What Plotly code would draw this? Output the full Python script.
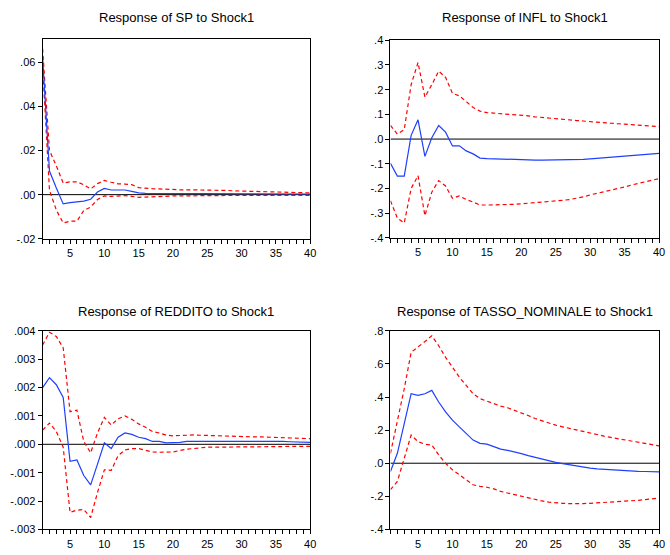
import plotly.graph_objects as go

periods = list(range(1, 41))

sp_resp = [0.062, 0.0107, 0.003, -0.0042, -0.0036, -0.0034, -0.0029, -0.0021, 0.0012, 0.0028,
           0.0021, 0.0021, 0.0021, 0.0015, 0.0008, 0.0006, 0.0006, 0.0006, 0.0006, 0.0006,
           0.0005, 0.0005, 0.0005, 0.0005, 0.0005, 0.0005, 0.0005, 0.0004, 0.0004, 0.0004,
           0.0004, 0.0004, 0.0004, 0.0004, 0.0003, 0.0003, 0.0003, 0.0003, 0.0003, 0.0003]
sp_up = [0.066, 0.020, 0.013, 0.0052, 0.0058, 0.0058, 0.0045, 0.0026, 0.0050, 0.0064,
         0.0056, 0.0049, 0.0048, 0.0045, 0.0032, 0.0028, 0.0027, 0.0026, 0.0024, 0.0023,
         0.0022, 0.0022, 0.0022, 0.0022, 0.0022, 0.0021, 0.0020, 0.0019, 0.0017, 0.0016,
         0.0015, 0.0015, 0.0014, 0.0014, 0.0013, 0.0012, 0.0011, 0.0010, 0.0009, 0.0008]
sp_lo = [0.058, 0.002, -0.007, -0.0128, -0.012, -0.012, -0.0072, -0.0056, -0.0022, -0.0006,
         -0.0008, -0.0006, -0.0004, -0.0008, -0.0012, -0.0011, -0.0009, -0.0008, -0.0007, -0.0006,
         -0.0006, -0.0005, -0.0005, -0.0004, -0.0004, -0.0004, -0.0004, -0.0003, -0.0003, -0.0003,
         -0.0003, -0.0003, -0.0003, -0.0003, -0.0003, -0.0003, -0.0003, -0.0003, -0.0003, -0.0003]

infl_resp = [-0.098, -0.150, -0.150, 0.015, 0.078, -0.070, 0.005, 0.055, 0.028, -0.028,
             -0.027, -0.048, -0.060, -0.077, -0.079, -0.080, -0.081, -0.083, -0.082, -0.082,
             -0.084, -0.085, -0.085, -0.085, -0.085, -0.085, -0.085, -0.084, -0.082, -0.080,
             -0.078, -0.076, -0.074, -0.072, -0.070, -0.068, -0.065, -0.063, -0.061, -0.058]
infl_up = [0.055, 0.020, 0.038, 0.220, 0.310, 0.170, 0.220, 0.275, 0.250, 0.185,
           0.175, 0.150, 0.128, 0.113, 0.107, 0.105, 0.103, 0.101, 0.099, 0.098,
           0.094, 0.090, 0.087, 0.085, 0.083, 0.080, 0.077, 0.075, 0.073, 0.070,
           0.068, 0.066, 0.064, 0.062, 0.060, 0.058, 0.056, 0.054, 0.052, 0.050]
infl_lo = [-0.250, -0.320, -0.340, -0.200, -0.148, -0.310, -0.215, -0.168, -0.190, -0.240,
           -0.230, -0.245, -0.255, -0.267, -0.267, -0.267, -0.267, -0.267, -0.264, -0.262,
           -0.260, -0.258, -0.255, -0.252, -0.250, -0.248, -0.245, -0.241, -0.234, -0.226,
           -0.220, -0.213, -0.206, -0.200, -0.194, -0.186, -0.179, -0.173, -0.166, -0.160]

red_resp = [0.00200, 0.00235, 0.00210, 0.00165, -0.00060, -0.00055, -0.00110, -0.00143, -0.00070, 0.00005,
            -0.00015, 0.00025, 0.00040, 0.00035, 0.00025, 0.00020, 0.00010, 0.00010, 0.00005, 0.00005,
            0.00007, 0.00010, 0.00010, 0.00011, 0.00012, 0.00012, 0.00011, 0.00010, 0.00010, 0.00010,
            0.00010, 0.00010, 0.00010, 0.00010, 0.00010, 0.00010, 0.00009, 0.00008, 0.00007, 0.00007]
red_up = [0.00350, 0.00395, 0.00380, 0.00340, 0.00115, 0.00120, 0.00010, -0.00030, 0.00040, 0.00095,
          0.00068, 0.00090, 0.00100, 0.00088, 0.00072, 0.00060, 0.00045, 0.00040, 0.00032, 0.00030,
          0.00031, 0.00033, 0.00033, 0.00032, 0.00031, 0.00031, 0.00030, 0.00029, 0.00028, 0.00028,
          0.00027, 0.00026, 0.00026, 0.00025, 0.00025, 0.00024, 0.00023, 0.00022, 0.00021, 0.00020]
red_lo = [0.00050, 0.00075, 0.00045, -0.00010, -0.00240, -0.00232, -0.00230, -0.00258, -0.00170, -0.00090,
          -0.00092, -0.00040, -0.00020, -0.00015, -0.00015, -0.00020, -0.00027, -0.00028, -0.00028, -0.00027,
          -0.00022, -0.00017, -0.00015, -0.00012, -0.00010, -0.00010, -0.00010, -0.00010, -0.00010, -0.00010,
          -0.00010, -0.00009, -0.00009, -0.00008, -0.00008, -0.00008, -0.00007, -0.00007, -0.00007, -0.00007]

tn_resp = [-0.050, 0.060, 0.240, 0.420, 0.410, 0.420, 0.440, 0.370, 0.310, 0.260,
           0.220, 0.180, 0.140, 0.120, 0.115, 0.100, 0.085, 0.078, 0.070, 0.058,
           0.046, 0.035, 0.025, 0.015, 0.005, -0.002, -0.010, -0.018, -0.025, -0.030,
           -0.034, -0.037, -0.040, -0.043, -0.045, -0.047, -0.049, -0.050, -0.051, -0.052]
tn_up = [0.060, 0.250, 0.450, 0.670, 0.700, 0.735, 0.770, 0.710, 0.640, 0.580,
         0.520, 0.470, 0.420, 0.390, 0.375, 0.360, 0.345, 0.335, 0.320, 0.305,
         0.288, 0.270, 0.256, 0.243, 0.230, 0.220, 0.210, 0.200, 0.190, 0.180,
         0.172, 0.164, 0.156, 0.148, 0.140, 0.133, 0.126, 0.120, 0.112, 0.105]
tn_lo = [-0.160, -0.110, 0.030, 0.170, 0.130, 0.115, 0.110, 0.050, 0.000, -0.040,
         -0.070, -0.100, -0.130, -0.140, -0.145, -0.155, -0.170, -0.180, -0.190, -0.200,
         -0.210, -0.220, -0.228, -0.235, -0.240, -0.242, -0.244, -0.245, -0.244, -0.242,
         -0.240, -0.238, -0.236, -0.233, -0.230, -0.227, -0.224, -0.220, -0.215, -0.210]

titles = ["Response of SP to Shock1", "Response of INFL to Shock1",
          "Response of REDDITO to Shock1", "Response of TASSO_NOMINALE to Shock1"]

x_ticktext = [str(v) if v % 5 == 0 else "" for v in periods]

sp_ticks = [-0.02, 0.0, 0.02, 0.04, 0.06]
sp_ticktext = ["-.02", ".00", ".02", ".04", ".06"]
infl_ticks = [-0.4, -0.3, -0.2, -0.1, 0.0, 0.1, 0.2, 0.3, 0.4]
infl_ticktext = ["-.4", "-.3", "-.2", "-.1", ".0", ".1", ".2", ".3", ".4"]
red_ticks = [-0.003, -0.002, -0.001, 0.0, 0.001, 0.002, 0.003, 0.004]
red_ticktext = ["-.003", "-.002", "-.001", ".000", ".001", ".002", ".003", ".004"]
tn_ticks = [-0.4, -0.2, 0.0, 0.2, 0.4, 0.6, 0.8]
tn_ticktext = ["-.4", "-.2", ".0", ".2", ".4", ".6", ".8"]

W, H = 670, 555
panels = [
    dict(resp=sp_resp, up=sp_up, lo=sp_lo, yr=[-0.02, 0.0703], tv=sp_ticks, tt=sp_ticktext,
         px=(43, 313), py=(34, 238), title_y=12),
    dict(resp=infl_resp, up=infl_up, lo=infl_lo, yr=[-0.4, 0.4], tv=infl_ticks, tt=infl_ticktext,
         px=(394, 665), py=(35, 237), title_y=12),
    dict(resp=red_resp, up=red_up, lo=red_lo, yr=[-0.003, 0.004], tv=red_ticks, tt=red_ticktext,
         px=(43, 313), py=(332, 535), title_y=312),
    dict(resp=tn_resp, up=tn_up, lo=tn_lo, yr=[-0.4, 0.8], tv=tn_ticks, tt=tn_ticktext,
         px=(394, 665), py=(332, 535), title_y=312),
]

fig = go.Figure()
layout = dict(width=W, height=H, margin=dict(l=0, r=0, t=0, b=0),
              paper_bgcolor="white", plot_bgcolor="white", showlegend=False,
              font=dict(family="Liberation Sans, Arial", size=11, color="black"))
annotations = []
shapes = []
for i, p in enumerate(panels):
    k = "" if i == 0 else str(i + 1)
    xa, ya = "x" + k, "y" + k
    layout["xaxis" + k] = dict(domain=[p["px"][0] / W, p["px"][1] / W], range=[1, 40],
                               anchor=ya, tickvals=periods, ticktext=x_ticktext,
                               ticks="outside", ticklen=4, tickcolor="black",
                               showline=True, linecolor="black", linewidth=1, mirror=True,
                               showgrid=False, zeroline=False, tickfont=dict(size=11))
    layout["yaxis" + k] = dict(domain=[1 - p["py"][1] / H, 1 - p["py"][0] / H], range=p["yr"],
                               anchor=xa, tickvals=p["tv"], ticktext=p["tt"],
                               ticks="outside", ticklen=4, tickcolor="black",
                               showline=True, linecolor="black", linewidth=1, mirror=True,
                               showgrid=False, zeroline=False, tickfont=dict(size=11))
    shapes.append(dict(type="line", xref=xa, yref=ya, x0=1, x1=40, y0=0, y1=0,
                       line=dict(color="black", width=1), layer="below"))
    fig.add_trace(go.Scatter(x=periods, y=p["up"], mode="lines", xaxis=xa, yaxis=ya,
                             line=dict(color="#ff0000", width=1.2, dash="4px,3px")))
    fig.add_trace(go.Scatter(x=periods, y=p["lo"], mode="lines", xaxis=xa, yaxis=ya,
                             line=dict(color="#ff0000", width=1.2, dash="4px,3px")))
    fig.add_trace(go.Scatter(x=periods, y=p["resp"], mode="lines", xaxis=xa, yaxis=ya,
                             line=dict(color="#1f3fff", width=1.2)))
    annotations.append(dict(text=titles[i], xref="paper", yref="paper",
                            x=(p["px"][0] + p["px"][1]) / 2 / W, y=1 - p["title_y"] / H,
                            xanchor="center", yanchor="middle", showarrow=False,
                            font=dict(size=13, color="black")))
layout["annotations"] = annotations
layout["shapes"] = shapes
fig.update_layout(**layout)
fig.write_html("out.html")
